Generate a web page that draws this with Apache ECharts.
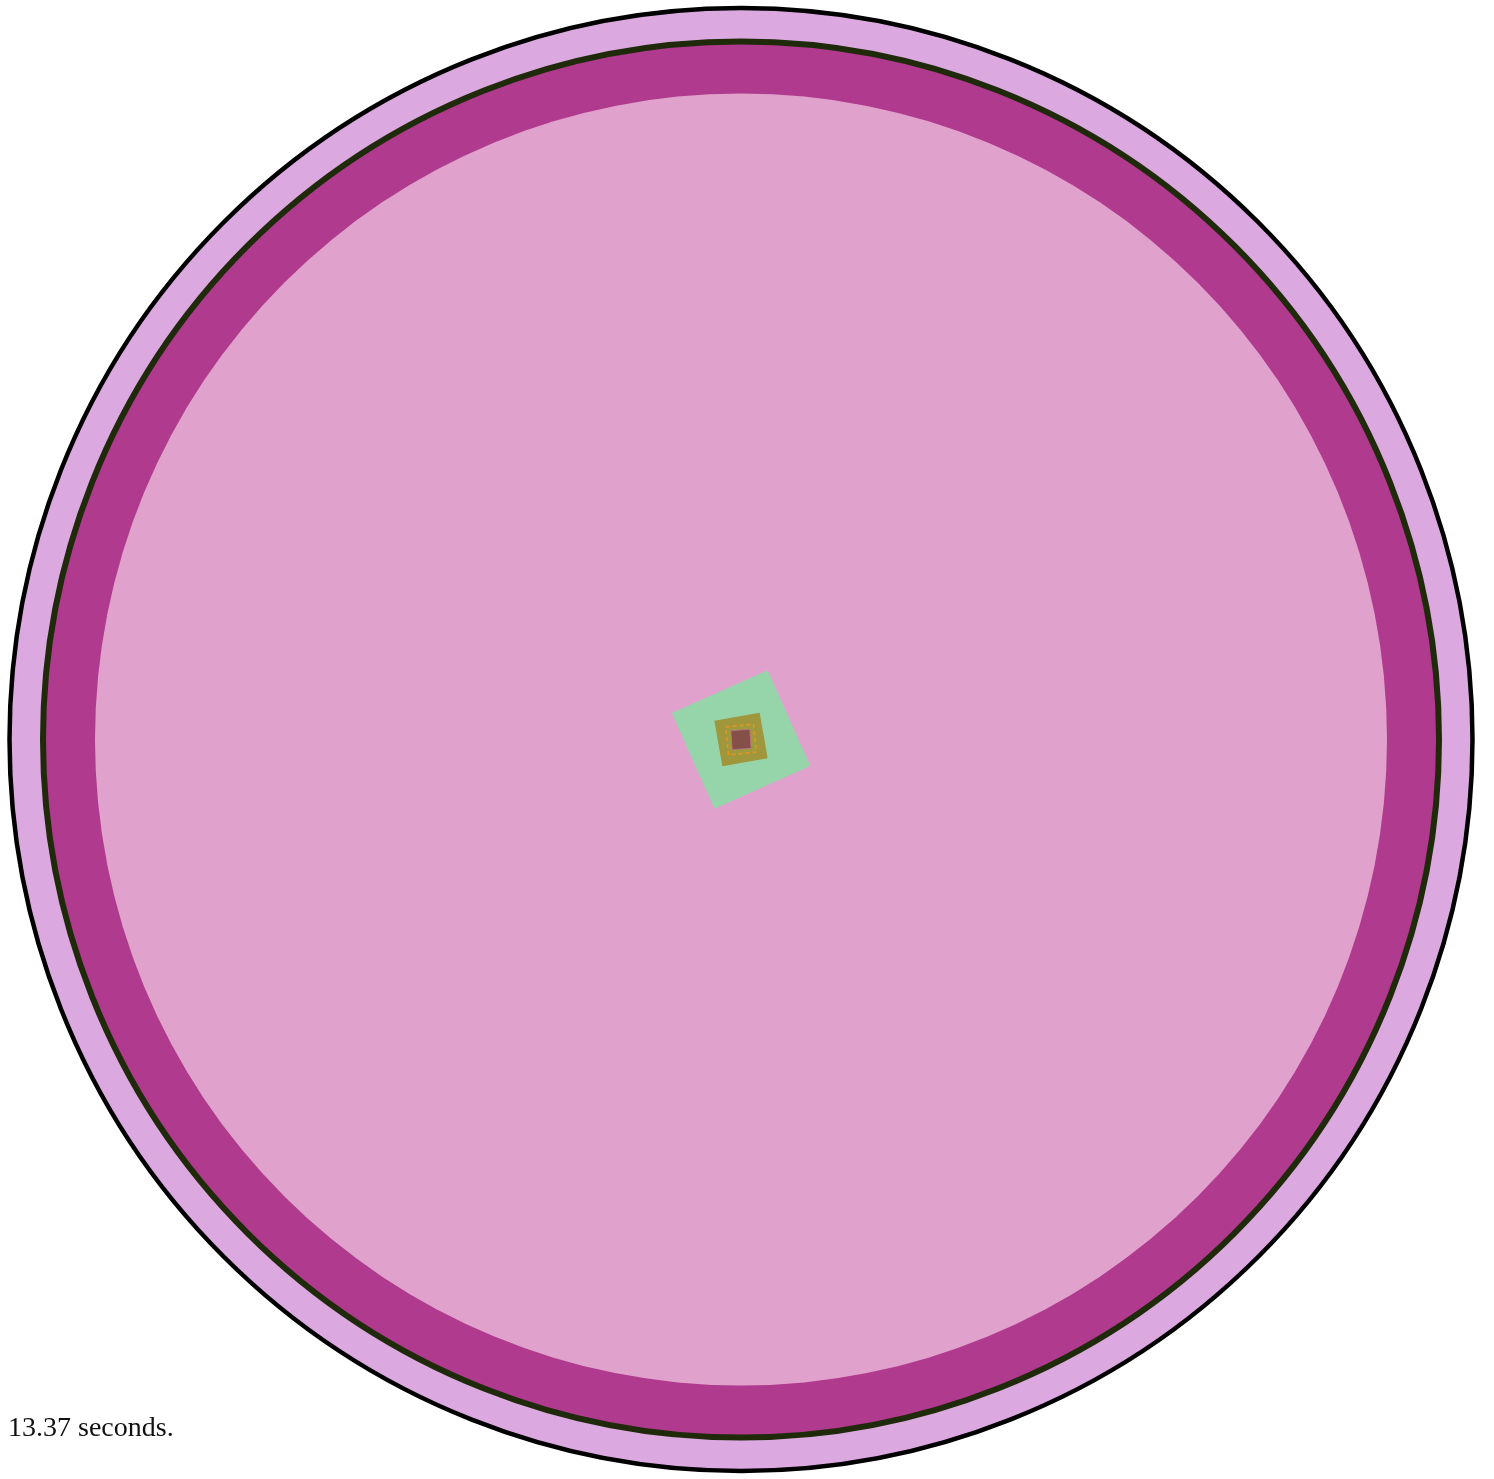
<!DOCTYPE html>
<html>
<head>
<meta charset="utf-8">
<script src="https://cdn.jsdelivr.net/npm/echarts@6/dist/echarts.min.js"></script>
<style>
html,body{margin:0;padding:0;background:#fff;}
#main{width:1494px;height:1479px;}
</style>
</head>
<body>
<div id="main"></div>
<script>
// ---- data ----
const circleNames = ['outer', 'ring', 'inner'];
const circleRadii = [731.5, 698, 646];
const squareNames = ['sq1', 'sq2', 'sq3', 'sq4'];
const squareSides = [105, 46, 28, 19];
const squareAngles = [-24, -10, -6, -4];
const footerText = '13.37 seconds.';

// ---- styles ----
const circleStyles = [
  { fill: '#dba8e0', stroke: '#000000', lineWidth: 4.5 },
  { fill: '#b03a8e', stroke: '#1f2a0b', lineWidth: 6 },
  { fill: '#e0a2cd', stroke: null, lineWidth: 0 }
];
const squareStyles = [
  { fill: '#96d4aa', stroke: null, lineWidth: 0 },
  { fill: '#a0963c', stroke: null, lineWidth: 0 },
  { fill: '#9e9a3e', stroke: '#e8941e', lineWidth: 1.5, dash: [4, 3] },
  { fill: '#855048', stroke: '#c27090', lineWidth: 0.8 }
];

const circleData = circleRadii.map((r, i) => [0, 0, r, i]);
const squareData = squareSides.map((s, i) => [0, 0, s, squareAngles[i], i]);

const chart = echarts.init(document.getElementById('main'), null, { renderer: 'canvas' });
chart.setOption({
  animation: false,
  backgroundColor: '#ffffff',
  title: {
    text: footerText,
    left: 3,
    top: 1410,
    textStyle: { fontFamily: 'Liberation Serif', fontWeight: 'normal', fontSize: 28, color: '#111111' }
  },
  grid: { left: 0, top: 0, width: 1482, height: 1482 },
  xAxis: { type: 'value', min: -741, max: 741, show: false },
  yAxis: { type: 'value', min: -741, max: 741, show: false },
  series: [
    {
      type: 'custom',
      data: circleData,
      renderItem: function (params, api) {
        const c = api.coord([api.value(0), api.value(1)]);
        const r = api.size([api.value(2), 0])[0];
        const st = circleStyles[api.value(3)];
        return {
          type: 'circle',
          shape: { cx: c[0], cy: c[1], r: r },
          style: { fill: st.fill, stroke: st.stroke, lineWidth: st.lineWidth }
        };
      },
      z: 1
    },
    {
      type: 'custom',
      data: squareData,
      renderItem: function (params, api) {
        const c = api.coord([api.value(0), api.value(1)]);
        const h = api.size([api.value(2), 0])[0] / 2;
        const th = api.value(3) * Math.PI / 180;
        const st = squareStyles[api.value(4)];
        const cs = Math.cos(th), sn = Math.sin(th);
        const pts = [[-h, -h], [h, -h], [h, h], [-h, h]].map(p => [
          c[0] + p[0] * cs - p[1] * sn,
          c[1] + p[0] * sn + p[1] * cs
        ]);
        return {
          type: 'polygon',
          shape: { points: pts },
          style: { fill: st.fill, stroke: st.stroke, lineWidth: st.lineWidth, lineDash: st.dash || null }
        };
      },
      z: 2
    }
  ]
});
</script>
</body>
</html>
